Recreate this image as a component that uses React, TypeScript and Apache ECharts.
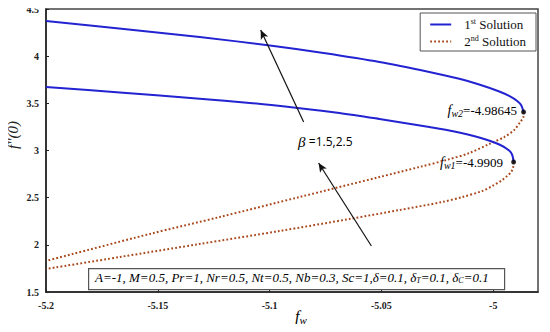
import React, { useEffect, useRef } from "react";
import * as echarts from "echarts";

// First solution (upper branch, turning at fw2)
const sol1UpperFw = [-5.2, -5.1652, -5.1313, -5.0982, -5.0759, -5.0509, -5.0286, -5.0152, -5.0063, -4.9973, -4.9929, -4.9893, -4.9875, -4.98645];
const sol1UpperF = [4.373, 4.288, 4.203, 4.108, 4.034, 3.939, 3.833, 3.76, 3.7, 3.626, 3.578, 3.525, 3.479, 3.408];
// First solution (lower branch, turning at fw1)
const sol1LowerFw = [-5.2, -5.167, -5.1313, -5.1089, -5.0875, -5.0688, -5.0509, -5.0286, -5.0174, -5.0063, -4.9973, -4.9929, -4.9915, -4.9909];
const sol1LowerF = [3.673, 3.615, 3.548, 3.504, 3.451, 3.398, 3.334, 3.249, 3.202, 3.138, 3.064, 3.0, 2.952, 2.878];
// Second solution (from fw2)
const sol2UpperFw = [-4.98645, -4.98654, -4.98795, -4.99063, -4.9951, -5.0018, -5.0107, -5.021, -5.033, -5.0509, -5.0866, -5.1223, -5.1536, -5.2];
const sol2UpperF = [3.408, 3.355, 3.302, 3.217, 3.143, 3.069, 2.973, 2.899, 2.825, 2.719, 2.507, 2.295, 2.115, 1.829];
// Second solution (from fw1)
const sol2LowerFw = [-4.9909, -4.9911, -4.992, -4.9938, -4.996, -5.0004, -5.0049, -5.0138, -5.0228, -5.042, -5.0643, -5.0955, -5.1313, -5.167, -5.2];
const sol2LowerF = [2.878, 2.825, 2.772, 2.73, 2.687, 2.624, 2.571, 2.507, 2.454, 2.369, 2.274, 2.147, 2.009, 1.871, 1.744];

const turningFw = [-4.98645, -4.9909];
const turningF = [3.408, 2.878];

const yTicks = [1.5, 2, 2.5, 3, 3.5, 4, 4.5];
const xTicks = [-5.2, -5.15, -5.1, -5.05, -5];

const zip = (a: number[], b: number[]) => a.map((v, i) => [v, b[i]]);

const BLUE = "#2323d2";
const BROWN = "#a8481c";
const SERIF = "'Liberation Serif', 'Times New Roman', serif";

export default function App() {
  const ref = useRef<HTMLDivElement>(null);
  useEffect(() => {
    if (!ref.current) return;
    const chart = echarts.init(ref.current, null, { renderer: "svg" });
    const legendRich = {
      g: { width: 8, fontSize: 13 },
      n: { fontFamily: SERIF, fontSize: 13, color: "#111" },
      s: { fontFamily: SERIF, fontSize: 8, color: "#111", padding: [0, 0, 7, 0] },
    };
    const subRich = {
      i: { fontFamily: SERIF, fontStyle: "italic", fontSize: 14, color: "#222" },
      sub: { fontFamily: SERIF, fontStyle: "italic", fontSize: 10, color: "#222", padding: [6, 0, 0, 0] },
      n: { fontFamily: SERIF, fontSize: 13, color: "#222" },
    };
    chart.setOption({
      animation: false,
      backgroundColor: "#fff",
      grid: {
        left: 46,
        top: 9,
        right: 12,
        bottom: 40,
        outerBoundsMode: "none",
        show: true,
        borderColor: "#444",
        borderWidth: 1.5,
      },
      legend: {
        orient: "vertical",
        right: 14,
        top: 13,
        padding: [4, 10, 3, 9],
        itemGap: 3,
        itemWidth: 21,
        itemHeight: 12,
        borderColor: "#555",
        borderWidth: 1,
        backgroundColor: "#fff",
        itemStyle: { opacity: 0 },
        data: ["1st Solution", "2nd Solution"],
        formatter: (name: string) =>
          name === "1st Solution" ? "{g| }{n|1}{s|st}{n| Solution}" : "{g| }{n|2}{s|nd}{n| Solution}",
        textStyle: { rich: legendRich },
      },
      xAxis: {
        type: "value",
        min: -5.2,
        max: -4.98,
        interval: 0.05,
        axisLine: { show: true, lineStyle: { color: "#222", width: 1.5 } },
        axisTick: { show: true, inside: true, length: 3, lineStyle: { color: "#222" } },
        splitLine: { show: false },
        axisLabel: {
          showMaxLabel: false,
          fontFamily: SERIF,
          fontWeight: "bold",
          fontSize: 10,
          color: "#222",
          margin: 8,
          formatter: (v: number) => {
            const t = xTicks.find((x) => Math.abs(x - v) < 1e-6);
            return t === undefined ? "" : String(t);
          },
        },
      },
      yAxis: {
        type: "value",
        min: 1.5,
        max: 4.5,
        interval: 0.5,
        axisLine: { show: true, lineStyle: { color: "#222", width: 1.5 } },
        axisTick: { show: true, inside: true, length: 3, lineStyle: { color: "#222" } },
        splitLine: { show: false },
        axisLabel: {
          fontFamily: SERIF,
          fontWeight: "bold",
          fontSize: 10,
          color: "#222",
          margin: 7,
          formatter: (v: number) => {
            const t = yTicks.find((x) => Math.abs(x - v) < 1e-6);
            return t === undefined ? "" : String(t);
          },
        },
      },
      series: [
        {
          name: "1st Solution",
          type: "line",
          data: zip(sol1UpperFw, sol1UpperF),
          smooth: 0.3,
          symbol: "none",
          lineStyle: { color: BLUE, width: 2 },
          itemStyle: { color: BLUE },
          z: 3,
        },
        {
          name: "1st Solution",
          type: "line",
          data: zip(sol1LowerFw, sol1LowerF),
          smooth: 0.3,
          symbol: "none",
          lineStyle: { color: BLUE, width: 2 },
          itemStyle: { color: BLUE },
          z: 3,
        },
        {
          name: "2nd Solution",
          type: "line",
          data: zip(sol2UpperFw, sol2UpperF),
          smooth: 0.3,
          symbol: "none",
          lineStyle: { color: BROWN, width: 2, type: [1.8, 2.2] },
          itemStyle: { color: BROWN },
          z: 2,
        },
        {
          name: "2nd Solution",
          type: "line",
          data: zip(sol2LowerFw, sol2LowerF),
          smooth: 0.3,
          symbol: "none",
          lineStyle: { color: BROWN, width: 2, type: [1.8, 2.2] },
          itemStyle: { color: BROWN },
          z: 2,
        },
        {
          name: "turning",
          type: "scatter",
          data: zip(turningFw, turningF),
          symbol: "circle",
          symbolSize: 5,
          itemStyle: { color: "#000" },
          z: 5,
          silent: true,
          markLine: {
            silent: true,
            symbol: ["none", "arrow"],
            symbolSize: [6, 9],
            label: { show: false },
            lineStyle: { color: "#111", width: 1.2, type: "solid" },
            data: [
              [{ coord: [-5.0848, 3.302] }, { coord: [-5.104, 4.277] }],
              [{ coord: [-5.0545, 1.988] }, { coord: [-5.0781, 2.867] }],
            ],
          },
        },
      ],
      graphic: [
        {
          type: "text",
          x: 13,
          y: 135,
          rotation: Math.PI / 2,
          style: {
            text: "f''(0)",
            fontFamily: SERIF,
            fontStyle: "italic",
            fontSize: 15,
            fill: "#222",
            align: "center",
            verticalAlign: "middle",
          },
        },
        {
          type: "text",
          left: 295,
          top: 308,
          style: {
            text: "{i|f}{sub|w}",
            rich: {
              i: { fontFamily: SERIF, fontStyle: "italic", fontSize: 16, color: "#222" },
              sub: { fontFamily: SERIF, fontStyle: "italic", fontSize: 11, color: "#222", padding: [7, 0, 0, 0] },
            },
          },
        },
        {
          type: "text",
          right: 33,
          top: 103,
          style: { text: "{i|f}{sub|w2}{n|=-4.98645}", rich: subRich },
        },
        {
          type: "text",
          right: 47,
          top: 155,
          style: { text: "{i|f}{sub|w1}{n|=-4.9909}", rich: subRich },
        },
        {
          type: "text",
          left: 298,
          top: 134,
          style: {
            text: "{b|β} {n|=1.5,2.5}",
            rich: {
              b: { fontFamily: SERIF, fontStyle: "italic", fontSize: 15, color: "#333" },
              n: { fontFamily: "'Open Sans', 'Liberation Sans', sans-serif", fontSize: 12, color: "#333" },
            },
          },
        },
        {
          type: "rect",
          left: 88,
          top: 268,
          shape: { width: 416, height: 21 },
          style: { fill: "#fff", stroke: "#555", lineWidth: 1.2 },
          z: 10,
        },
        {
          type: "text",
          left: 95,
          top: 271,
          z: 11,
          style: {
            text: "{t|A=-1, M=0.5, Pr=1, Nr=0.5, Nt=0.5, Nb=0.3, Sc=1,δ=0.1, δ}{s|T}{t|=0.1, δ}{s|C}{t|=0.1}",
            rich: {
              t: { fontFamily: SERIF, fontStyle: "italic", fontSize: 13, color: "#222" },
              s: { fontFamily: SERIF, fontStyle: "italic", fontSize: 8, color: "#222", padding: [6, 0, 0, 0] },
            },
          },
        },
      ],
    });
    return () => chart.dispose();
  }, []);
  return <div ref={ref} style={{ width: 550, height: 332, margin: -8 }} />;
}
